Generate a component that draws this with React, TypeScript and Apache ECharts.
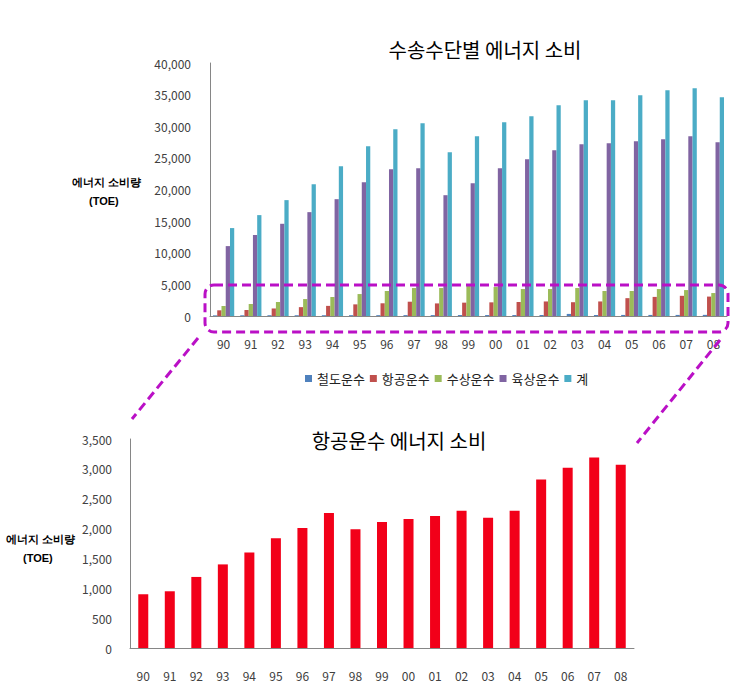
import React, { useEffect, useRef } from 'react';
import * as echarts from 'echarts';

const years = ['90', '91', '92', '93', '94', '95', '96', '97', '98', '99', '00', '01', '02', '03', '04', '05', '06', '07', '08'];
const seriesNames = ['철도운수', '항공운수', '수상운수', '육상운수', '계'];
const rail = [100, 110, 120, 120, 120, 130, 130, 140, 140, 150, 150, 150, 160, 330, 160, 170, 170, 170, 180];
const air = [900, 950, 1190, 1400, 1600, 1840, 2010, 2260, 1990, 2110, 2160, 2210, 2300, 2180, 2300, 2820, 3020, 3190, 3070];
const water = [1580, 1900, 2210, 2680, 3000, 3470, 3950, 4420, 4420, 4740, 4580, 4260, 4260, 4420, 3950, 3950, 4260, 4100, 3630];
const land = [11050, 12790, 14580, 16420, 18470, 21160, 23210, 23370, 19100, 21000, 23370, 24790, 26210, 27160, 27320, 27630, 27950, 28420, 27470];
const total = [13900, 15950, 18320, 20840, 23680, 26840, 29530, 30470, 25900, 28420, 30630, 31580, 33320, 34100, 34100, 34900, 35680, 36000, 34580];
const topTicks = ['0', '5,000', '10,000', '15,000', '20,000', '25,000', '30,000', '35,000', '40,000'];
const bottomTicks = ['0', '500', '1,000', '1,500', '2,000', '2,500', '3,000', '3,500'];
const colors = ['#4F81BD', '#C0504D', '#9BBB59', '#8064A2', '#4BACC6'];

const FONT = '"Noto Sans CJK KR", "Noto Sans", sans-serif';
const AXIS_COLOR = '#868686';
const LABEL_COLOR = '#404040';
const MAGENTA = '#BA10C6';

export default function App() {
  const ref = useRef<HTMLDivElement>(null);
  useEffect(() => {
    if (!ref.current) return;
    const chart = echarts.init(ref.current, undefined, { renderer: 'svg' });
    const topData = [rail, air, water, land, total];
    const xAxisBase = (gridIndex: number) => ({
      type: 'category' as const,
      gridIndex,
      data: years,
      axisLine: { show: true, lineStyle: { color: AXIS_COLOR, width: 1 } },
      axisTick: { show: false },
      axisLabel: { color: LABEL_COLOR, fontSize: 12, fontFamily: FONT, margin: 21 },
    });
    chart.setOption({
      animation: false,
      textStyle: { fontFamily: FONT },
      title: [
        { text: '수송수단별 에너지 소비', left: 480, top: 34, textAlign: 'center',
          textStyle: { fontSize: 20, fontWeight: 'normal', color: '#000', fontFamily: FONT } },
        { text: '항공운수 에너지 소비', left: 394, top: 425, textAlign: 'center',
          textStyle: { fontSize: 20, fontWeight: 'normal', color: '#000', fontFamily: FONT } },
      ],
      legend: {
        data: seriesNames,
        left: 305,
        top: 372,
        padding: 0,
        icon: 'rect',
        itemWidth: 7,
        itemHeight: 7,
        itemGap: 5,
        textStyle: { fontSize: 13, color: '#222', fontFamily: FONT },
      },
      grid: [
        { left: 210, top: 63, width: 517, height: 253 },
        { left: 130, top: 439, width: 504, height: 209 },
      ],
      xAxis: [xAxisBase(0), xAxisBase(1)],
      yAxis: [
        {
          type: 'value', gridIndex: 0, min: 0, max: 40000, interval: 5000,
          axisLine: { show: true, lineStyle: { color: AXIS_COLOR } },
          axisTick: { show: false },
          splitLine: { show: false },
          axisLabel: { color: LABEL_COLOR, fontSize: 12, fontFamily: FONT, margin: 19,
            formatter: (v: number) => topTicks[Math.round(v / 5000)] },
        },
        {
          type: 'value', gridIndex: 1, min: 0, max: 3500, interval: 500,
          axisLine: { show: true, lineStyle: { color: AXIS_COLOR } },
          axisTick: { show: false },
          splitLine: { show: false },
          axisLabel: { color: LABEL_COLOR, fontSize: 12, fontFamily: FONT, margin: 18,
            formatter: (v: number) => bottomTicks[Math.round(v / 500)] },
        },
      ],
      series: [
        ...seriesNames.map((name, i) => ({
          name,
          type: 'bar',
          xAxisIndex: 0,
          yAxisIndex: 0,
          data: topData[i],
          itemStyle: { color: colors[i] },
          barGap: '0%',
          barCategoryGap: '22%',
        })),
        {
          name: '항공운수(확대)',
          type: 'bar',
          xAxisIndex: 1,
          yAxisIndex: 1,
          data: air,
          itemStyle: { color: '#F20019' },
          barWidth: 10,
        },
      ],
      graphic: [
        { type: 'text', left: 72, top: 176, style: { text: '에너지 소비량', fontSize: 11, fontWeight: 'bold', fill: '#000', font: `bold 11px ${FONT}` } },
        { type: 'text', left: 89, top: 195, style: { text: '(TOE)', fontSize: 11, fontWeight: 'bold', fill: '#000', font: `bold 11px ${FONT}` } },
        { type: 'text', left: 6, top: 533, style: { text: '에너지 소비량', fontSize: 11, fontWeight: 'bold', fill: '#000', font: `bold 11px ${FONT}` } },
        { type: 'text', left: 23, top: 552, style: { text: '(TOE)', fontSize: 11, fontWeight: 'bold', fill: '#000', font: `bold 11px ${FONT}` } },
        { type: 'rect', shape: { x: 205, y: 285, width: 523, height: 47, r: 9 },
          style: { fill: 'none', stroke: MAGENTA, lineWidth: 3, lineDash: [9, 5] }, z: 100 },
        { type: 'line', shape: { x1: 198, y1: 338, x2: 132, y2: 419 },
          style: { stroke: MAGENTA, lineWidth: 3, lineDash: [9, 5] }, z: 100 },
        { type: 'line', shape: { x1: 720, y1: 340, x2: 637, y2: 443 },
          style: { stroke: MAGENTA, lineWidth: 3, lineDash: [9, 5] }, z: 100 },
      ],
    });
    return () => chart.dispose();
  }, []);
  return <div ref={ref} style={{ position: 'absolute', left: 0, top: 0, width: 743, height: 684 }} />;
}
